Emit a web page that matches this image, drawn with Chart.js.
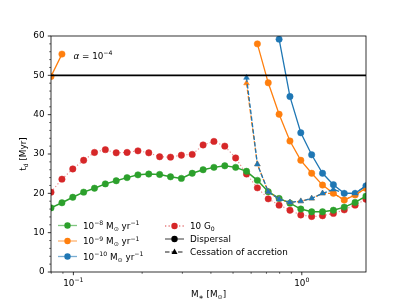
<!DOCTYPE html>
<html>
<head>
<meta charset="utf-8">
<script src="https://cdn.jsdelivr.net/npm/chart.js@4.4.0/dist/chart.umd.min.js"></script>
<style>
  html, body { margin: 0; padding: 0; background: #fff; }
  #wrap { width: 407px; height: 305px; }
</style>
</head>
<body>
<div id="wrap"><canvas id="chart" width="407" height="305"></canvas></div>
<script>
// stellar masses of the model grid [M_sun]
const masses = [0.0798, 0.0891, 0.0994, 0.1109, 0.1237, 0.1380, 0.1540, 0.1718, 0.1917, 0.2138,
                0.2386, 0.2662, 0.2970, 0.3313, 0.3697, 0.4124, 0.4601, 0.5133, 0.5727, 0.6390,
                0.7129, 0.7954, 0.8874, 0.9900, 1.1045, 1.2323, 1.3748, 1.5339, 1.7113, 1.9093];

// disc lifetimes t_d [Myr] (null = above the plotted range)
const disp1e8 = [16.3, 17.6, 19.0, 20.3, 21.3, 22.4, 23.2, 24.0, 24.7, 24.9,
                 24.8, 24.2, 23.8, 25.1, 26.0, 26.6, 27.0, 26.6, 25.6, 23.3,
                 20.4, 18.7, 17.5, 16.0, 15.3, 15.3, 15.7, 16.5, 17.7, 19.3];
const disp1e9 = [49.7, 55.4, null, null, null, null, null, null, null, null,
                 null, null, null, null, null, null, null, null, null, 58.0,
                 48.1, 40.1, 33.3, 28.4, 25.1, 22.1, 20.0, 18.3, 19.6, 21.3];
const disp1e10 = [null, null, null, null, null, null, null, null, null, null,
                  null, null, null, null, null, null, null, null, null, null,
                  null, 59.2, 44.6, 35.4, 29.8, 25.1, 22.2, 20.0, 20.0, 21.9];
const disp10G0 = [20.3, 23.6, 26.2, 28.4, 30.4, 31.1, 30.3, 30.4, 30.8, 30.3,
                  29.3, 29.2, 29.7, 29.9, 32.3, 33.2, 32.0, 29.0, 24.9, 21.4,
                  18.6, 17.0, 15.7, 14.5, 14.1, 14.3, 14.9, 15.8, 17.0, 18.5];
const cess1e9 = [null, null, null, null, null, null, null, null, null, null,
                 null, null, null, null, null, null, null, null, 48.0, 27.4,
                 20.4, 18.5, 17.7, 18.0, 18.7, 20.0, 20.0, 18.3, 19.6, 21.3];
const cess1e10 = [null, null, null, null, null, null, null, null, null, null,
                  null, null, null, null, null, null, null, null, 49.4, 27.4,
                  20.4, 18.5, 17.7, 18.0, 18.7, 20.0, 21.0, 20.0, 20.0, 21.9];

// axes
const xRange = [0.0798, 1.91];
const yRange = [0, 60];
const yStep = 10;
const yMinorStep = 2;
const xMajorTicks = [0.1, 1];
const xTickLabels = [['10', '−1'], ['10', '0']];
const xMinorTicks = [0.08, 0.09, 0.2, 0.3, 0.4, 0.5, 0.6, 0.7, 0.8, 0.9];
const limitLine = 50;
const annotAt = [0.1, 55];

const BLUE = '#1f77b4', ORANGE = '#ff7f0e', GREEN = '#2ca02c', RED = '#d62728';
const FONT = 'DejaVu Sans';
const FS = 8.8;

function pts(vals) {
    return masses.map((m, i) => ({ x: m, y: vals[i] }));
}

// draw a run of text pieces: [text, kind] with kind '', 'sup', 'sub', 'it'
function drawRich(ctx, parts, x, y, size, align) {
    const fontFor = k => (k === 'it' ? 'italic ' : '') +
        ((k === 'sup' || k === 'sub') ? size * 0.7 : size) + 'px "' + FONT + '"';
    let w = 0;
    parts.forEach(([t, k]) => { ctx.font = fontFor(k); w += ctx.measureText(t).width; });
    let cx = align === 'center' ? x - w / 2 : (align === 'right' ? x - w : x);
    ctx.textAlign = 'left';
    ctx.textBaseline = 'alphabetic';
    parts.forEach(([t, k]) => {
        ctx.font = fontFor(k);
        const dy = k === 'sup' ? -size * 0.42 : (k === 'sub' ? size * 0.22 : 0);
        ctx.fillText(t, cx, y + dy);
        cx += ctx.measureText(t).width;
    });
}

function marker(ctx, kind, x, y, color) {
    ctx.fillStyle = color;
    ctx.beginPath();
    if (kind === 'triangle') {
        ctx.moveTo(x, y - 3.4);
        ctx.lineTo(x + 3, y + 1.9);
        ctx.lineTo(x - 3, y + 1.9);
        ctx.closePath();
    } else {
        ctx.arc(x, y, 3.2, 0, Math.PI * 2);
    }
    ctx.fill();
}

function legendRow(ctx, x0, y, color, dash, kind, parts) {
    ctx.save();
    ctx.strokeStyle = color;
    ctx.globalAlpha = 0.6;
    ctx.lineWidth = 1.3;
    ctx.setLineDash(dash);
    ctx.beginPath();
    ctx.moveTo(x0, y);
    ctx.lineTo(x0 + 19, y);
    ctx.stroke();
    ctx.globalAlpha = 1;
    ctx.setLineDash([]);
    marker(ctx, kind, x0 + 9.5, y, color);
    ctx.fillStyle = '#000';
    drawRich(ctx, parts, x0 + 25, y + 3.2, FS, 'left');
    ctx.restore();
}

const decorations = {
    id: 'decorations',
    afterDatasetsDraw(chart) {
        const { ctx, chartArea: a, scales: { x, y } } = chart;
        ctx.save();

        // horizontal line
        const yl = y.getPixelForValue(limitLine);
        ctx.strokeStyle = '#000';
        ctx.lineWidth = 1.8;
        ctx.beginPath();
        ctx.moveTo(a.left, yl);
        ctx.lineTo(a.right, yl);
        ctx.stroke();

        // frame
        ctx.lineWidth = 0.8;
        ctx.strokeRect(a.left, a.top, a.right - a.left, a.bottom - a.top);

        // y ticks
        for (let v = yRange[0]; v <= yRange[1]; v += yMinorStep) {
            const py = y.getPixelForValue(v);
            const major = v % yStep === 0;
            ctx.lineWidth = major ? 0.8 : 0.6;
            ctx.beginPath();
            ctx.moveTo(a.left, py);
            ctx.lineTo(a.left - (major ? 3.2 : 1.8), py);
            ctx.stroke();
        }

        // x ticks
        xMinorTicks.forEach(v => {
            if (v < xRange[0] || v > xRange[1]) return;
            const px = x.getPixelForValue(v);
            ctx.lineWidth = 0.6;
            ctx.beginPath();
            ctx.moveTo(px, a.bottom);
            ctx.lineTo(px, a.bottom + 1.8);
            ctx.stroke();
        });
        ctx.fillStyle = '#000';
        xMajorTicks.forEach((v, i) => {
            const px = x.getPixelForValue(v);
            ctx.lineWidth = 0.8;
            ctx.beginPath();
            ctx.moveTo(px, a.bottom);
            ctx.lineTo(px, a.bottom + 3.2);
            ctx.stroke();
            drawRich(ctx, [[xTickLabels[i][0], ''], [xTickLabels[i][1], 'sup']], px, a.bottom + 14, FS, 'center');
        });

        // axis titles
        drawRich(ctx, [['M', ''], ['∗', 'sub'], [' [M', ''], ['⊙', 'sub'], [']', '']],
                 (a.left + a.right) / 2, a.bottom + 25, FS, 'center');
        ctx.save();
        ctx.translate(a.left - 28, (a.top + a.bottom) / 2);
        ctx.rotate(-Math.PI / 2);
        drawRich(ctx, [['t', ''], ['d', 'sub'], [' [Myr]', '']], 0, 3.2, FS, 'center');
        ctx.restore();

        // annotation
        drawRich(ctx, [['α', 'it'], [' = 10', ''], ['−4', 'sup']],
                 x.getPixelForValue(annotAt[0]), y.getPixelForValue(annotAt[1]) + 3.2, FS, 'left');

        // legend
        const c1 = a.left + 7, c2 = a.left + 114;
        legendRow(ctx, c1, a.bottom - 46.5, GREEN, [], 'circle',
                  [['10', ''], ['−8', 'sup'], [' M', ''], ['⊙', 'sub'], [' yr', ''], ['−1', 'sup']]);
        legendRow(ctx, c1, a.bottom - 31, ORANGE, [], 'circle',
                  [['10', ''], ['−9', 'sup'], [' M', ''], ['⊙', 'sub'], [' yr', ''], ['−1', 'sup']]);
        legendRow(ctx, c1, a.bottom - 15.5, BLUE, [], 'circle',
                  [['10', ''], ['−10', 'sup'], [' M', ''], ['⊙', 'sub'], [' yr', ''], ['−1', 'sup']]);
        legendRow(ctx, c2, a.bottom - 46, RED, [1.3, 2.2], 'circle',
                  [['10 G', ''], ['0', 'sub']]);
        legendRow(ctx, c2, a.bottom - 33, '#000', [], 'circle', [['Dispersal', '']]);
        legendRow(ctx, c2, a.bottom - 20, '#000', [4.5, 2], 'triangle', [['Cessation of accretion', '']]);

        ctx.restore();
    }
};

function ds(vals, color, opts) {
    return Object.assign({
        data: pts(vals),
        borderColor: color,
        backgroundColor: color,
        pointBackgroundColor: color,
        pointBorderColor: color,
        pointBorderWidth: 0.5,
        borderWidth: 1.3,
        pointRadius: 3.2,
        pointStyle: 'circle',
        tension: 0,
        spanGaps: false
    }, opts);
}

new Chart(document.getElementById('chart'), {
    type: 'line',
    data: {
        datasets: [
            ds(cess1e10, BLUE, { borderDash: [4.5, 2], pointStyle: 'triangle', pointRadius: 3.3 }),
            ds(cess1e9, ORANGE, { borderDash: [4.5, 2], pointStyle: 'triangle', pointRadius: 3.3 }),
            ds(disp1e10, BLUE, {}),
            ds(disp1e9, ORANGE, {}),
            ds(disp1e8, GREEN, { borderWidth: 1.5 }),
            ds(disp10G0, RED, { borderColor: 'rgba(214,39,40,0.55)', borderWidth: 1.1, borderDash: [1.2, 2.2] })
        ]
    },
    options: {
        responsive: false,
        animation: false,
        events: [],
        layout: { padding: { left: 0, top: 36, right: 41, bottom: 0 } },
        plugins: { legend: { display: false }, tooltip: { enabled: false } },
        scales: {
            x: {
                type: 'logarithmic',
                min: xRange[0],
                max: xRange[1],
                grid: { display: false, drawTicks: false },
                border: { display: false },
                ticks: { display: false },
                afterFit: s => { s.height = 33; }
            },
            y: {
                type: 'linear',
                min: yRange[0],
                max: yRange[1],
                grid: { display: false, drawTicks: false },
                border: { display: false },
                ticks: {
                    stepSize: yStep,
                    color: '#000',
                    padding: 6.5,
                    font: { family: FONT, size: FS }
                },
                afterFit: s => { s.width = 51; }
            }
        }
    },
    plugins: [decorations]
});
</script>
</body>
</html>
